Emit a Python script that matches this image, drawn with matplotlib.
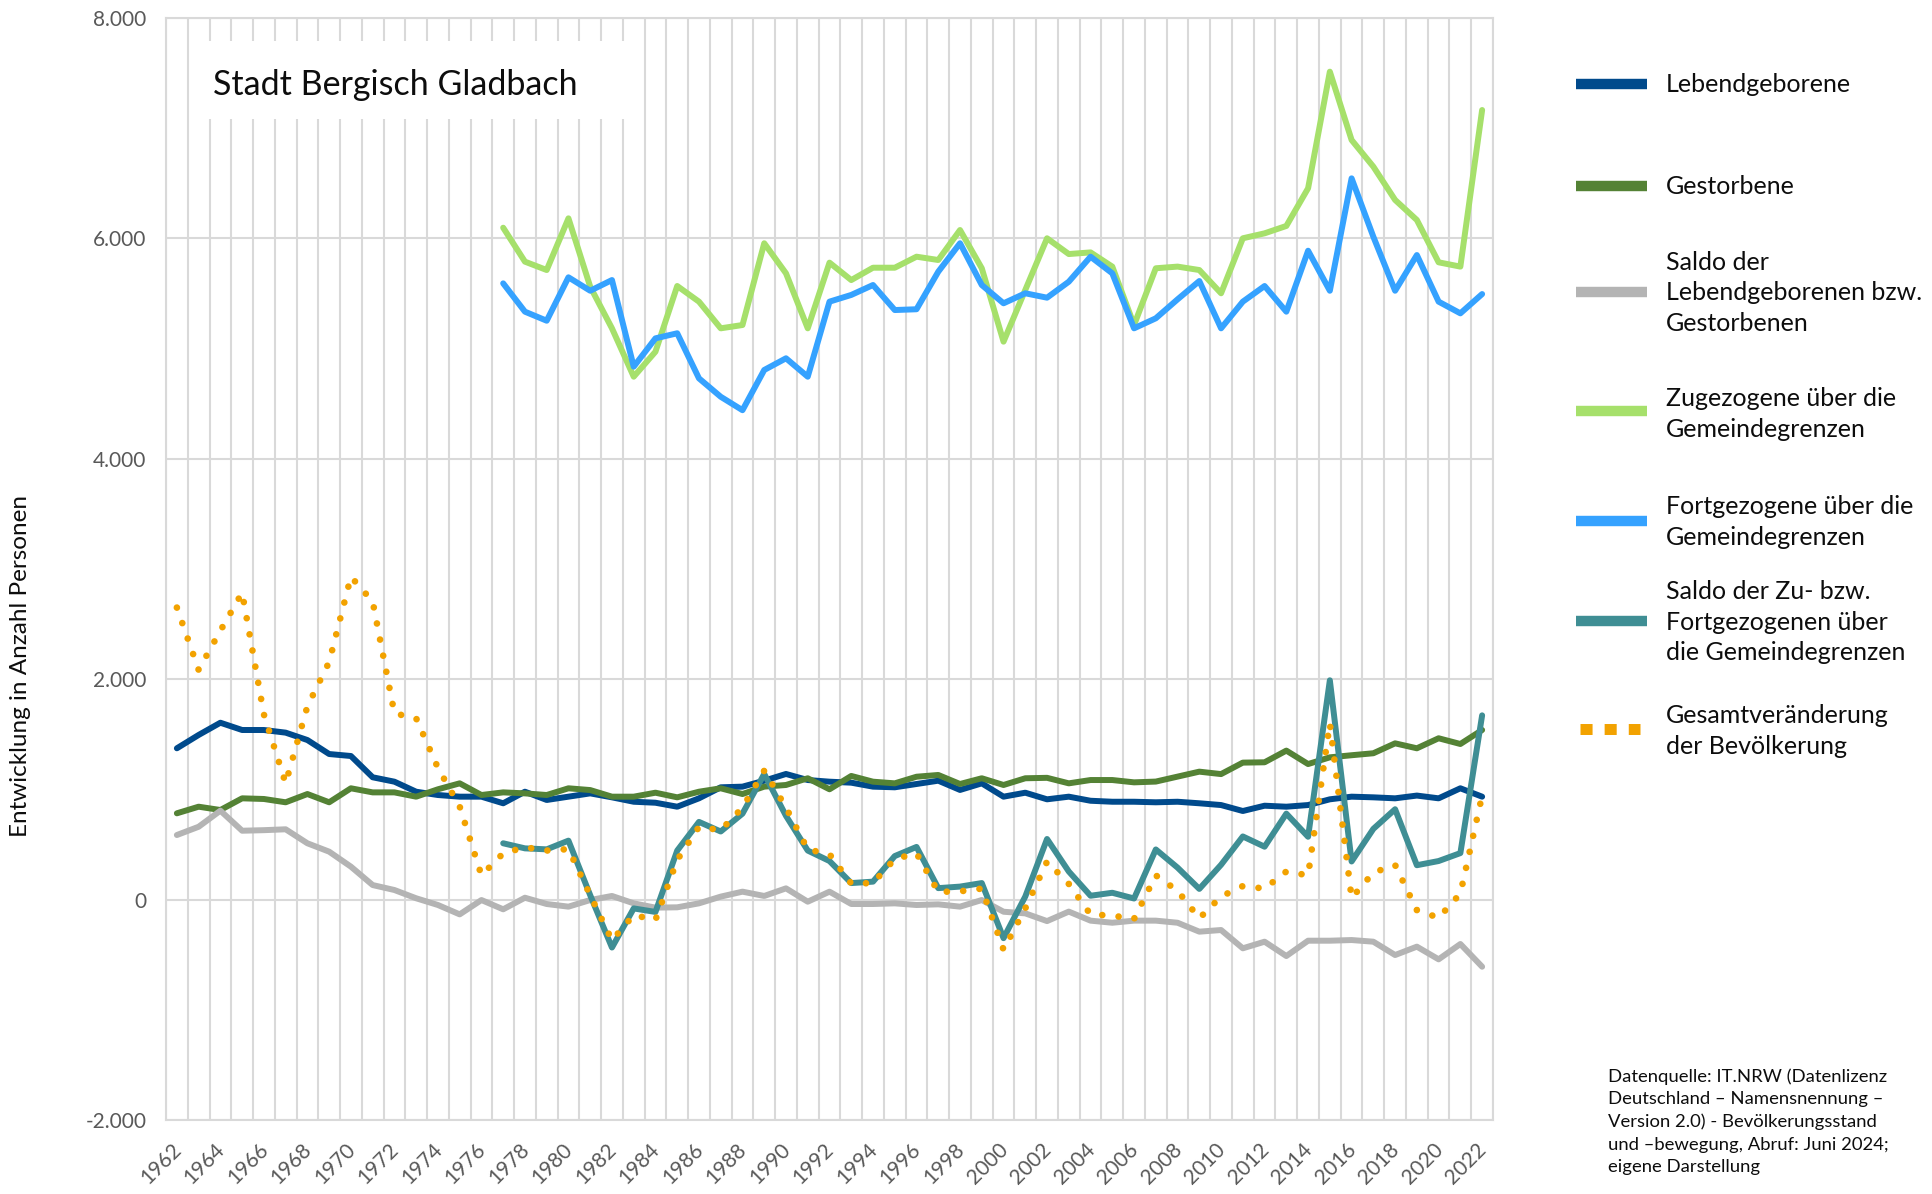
import numpy as np
import matplotlib.pyplot as plt
from matplotlib.lines import Line2D
from matplotlib.patches import Rectangle
from matplotlib.ticker import FuncFormatter
from matplotlib.transforms import ScaledTranslation

plt.rcParams['font.family'] = ['Lato', 'DejaVu Sans']

years = list(range(1962, 2023))
years_mig = list(range(1977, 2023))

# Lebendgeborene 1962-2022
geboren = [1373, 1494, 1605, 1539, 1539, 1515, 1448, 1321, 1303, 1110,
           1070, 979, 949, 934, 934, 874, 979, 904, 934, 964,
           928, 888, 879, 843, 919, 1019, 1025, 1079, 1140, 1085,
           1070, 1061, 1025, 1019, 1049, 1079, 995, 1055, 934, 970,
           910, 934, 897, 888, 888, 883, 888, 874, 858, 804,
           852, 843, 858, 910, 934, 928, 919, 944, 919, 1010,
           934]
# Gestorbene 1962-2022
gestorben = [783, 843, 813, 919, 913, 883, 958, 883, 1010, 973,
             973, 934, 1001, 1055, 949, 973, 964, 949, 1010, 994,
             934, 934, 970, 928, 979, 1010, 958, 1025, 1040, 1101,
             1001, 1122, 1070, 1055, 1115, 1131, 1049, 1101, 1040, 1101,
             1105, 1055, 1085, 1085, 1064, 1071, 1116, 1161, 1139, 1243,
             1246, 1352, 1230, 1291, 1310, 1328, 1418, 1373, 1464, 1412,
             1539]
# Saldo Lebendgeborene / Gestorbene 1962-2022
saldo_nat = [586, 661, 807, 625, 630, 638, 511, 435, 299, 132,
             87, 12, -49, -134, -4, -88, 17, -40, -64, -4,
             33, -34, -73, -70, -34, 27, 72, 33, 102, -19,
             72, -40, -40, -34, -49, -43, -64, -4, -110, -125,
             -195, -109, -191, -210, -191, -191, -210, -291, -276, -442,
             -382, -512, -373, -373, -367, -382, -503, -427, -542, -403,
             -609]
# Zugezogene 1977-2022
zuzug = [6097, 5789, 5713, 6182, 5562, 5184, 4745, 4972, 5568, 5426,
         5184, 5214, 5956, 5683, 5184, 5780, 5622, 5734, 5734, 5834,
         5804, 6076, 5729, 5063, 5532, 6001, 5858, 5873, 5744, 5214,
         5729, 5744, 5713, 5502, 6001, 6046, 6113, 6455, 7513, 6893,
         6651, 6349, 6167, 5783, 5744, 7165]
# Fortgezogene 1977-2022
fortzug = [5592, 5335, 5253, 5647, 5525, 5622, 4836, 5093, 5139, 4730,
           4563, 4441, 4806, 4912, 4745, 5426, 5487, 5577, 5350, 5357,
           5698, 5956, 5577, 5411, 5502, 5462, 5607, 5834, 5683, 5184,
           5275, 5447, 5613, 5184, 5426, 5568, 5335, 5888, 5525, 6545,
           6015, 5525, 5849, 5426, 5320, 5495]
# Saldo Zu- / Fortgezogene 1977-2022
saldo_wand = [511, 465, 456, 535, 40, -435, -80, -112, 445, 705,
              618, 780, 1140, 760, 445, 350, 150, 163, 395, 478,
              104, 118, 150, -350, 28, 550, 255, 35, 62, 10,
              455, 290, 97, 316, 573, 480, 780, 570, 1990, 346,
              642, 820, 312, 350, 422, 1672]
# Gesamtveraenderung 1962-2022
gesamt = [2650, 2085, 2440, 2785, 1680, 1055, 1754, 2156, 2930, 2705,
          1690, 1645, 1195, 845, 220, 420, 475, 445, 458, 40,
          -370, -140, -185, 360, 660, 630, 834, 1170, 835, 455,
          412, 145, 150, 368, 420, 70, 75, 100, -455, -80,
          345, 142, -135, -145, -175, 220, 80, -170, 28, 123,
          100, 255, 220, 1600, 15, 245, 314, -95, -165, 55,
          945]

labels = ['Lebendgeborene', 'Gestorbene',
          'Saldo der\nLebendgeborenen bzw.\nGestorbenen',
          'Zugezogene über die\nGemeindegrenzen',
          'Fortgezogene über die\nGemeindegrenzen',
          'Saldo der Zu- bzw.\nFortgezogenen über\ndie Gemeindegrenzen',
          'Gesamtveränderung\nder Bevölkerung']
colors = ['#004A8C', '#548235', '#B4B4B4', '#A6E06B', '#35A2FF', '#3F8E94', '#F2A200']

W, H = 1932, 1194
fig = plt.figure(figsize=(W / 100, H / 100), dpi=100)
ax = fig.add_axes([166 / W, 1 - 1120 / H, 1327 / W, 1102 / H])

x_all = np.arange(len(years))
x_mig = np.arange(len(years_mig)) + (years_mig[0] - years[0])

series = [(x_all, geboren), (x_all, gestorben), (x_all, saldo_nat),
          (x_mig, zuzug), (x_mig, fortzug), (x_mig, saldo_wand)]
for (xs, ys), c in zip(series, colors[:6]):
    ax.plot(xs, ys, color=c, lw=4.3, solid_joinstyle='round', solid_capstyle='round', zorder=2)
ax.plot(x_all, gesamt, color=colors[6], lw=4.8, linestyle=(0, (0.01, 2.45)),
        dash_capstyle='round', zorder=3)

ax.set_xlim(-0.5, len(years) - 0.5)
ax.set_ylim(-2000, 8000)
ax.set_yticks(range(-2000, 8001, 2000))
ax.yaxis.set_major_formatter(FuncFormatter(lambda v, _: f"{int(v):,}".replace(',', '.')))
ax.set_xticks(x_all[::2])
ax.set_xticklabels([str(y) for y in years[::2]], rotation=45, ha='right', va='top',
                   rotation_mode='anchor')
ax.set_xticks(np.arange(-0.5, len(years), 1), minor=True)

grid_c = '#D9D9D9'
ax.set_axisbelow(True)
ax.grid(which='minor', axis='x', color=grid_c, lw=1.5)
ax.grid(which='major', axis='y', color=grid_c, lw=1.5)
for s in ax.spines.values():
    s.set_color(grid_c)
    s.set_linewidth(1.5)
ax.tick_params(which='both', length=0, colors='#595959', labelsize=15)
ax.tick_params(axis='y', pad=14)
ax.tick_params(axis='x', pad=14)
for lab in ax.get_xticklabels():
    lab.set_transform(lab.get_transform() + ScaledTranslation(-0.06, 0, fig.dpi_scale_trans))

# title box
ax.add_patch(Rectangle((29 / 1327, (1120 - 119) / 1102), 437 / 1327, 78 / 1102,
                       transform=ax.transAxes, facecolor='white', edgecolor='none', zorder=1))
ax.text(47 / 1327, (1120 - 85) / 1102, 'Stadt Bergisch Gladbach', transform=ax.transAxes,
        fontsize=24.5, va='center', ha='left', color='#0D0D0D', zorder=4)

fig.text(21 / W, 1 - 666 / H, 'Entwicklung in Anzahl Personen', rotation=90,
         va='center', ha='center', fontsize=17.5, color='#0D0D0D')

# legend
leg_y = [84, 186, 292, 411, 521, 621, 729]
txt_y = [84, 186, 293, 414, 522, 622, 731]
for lab, c, ly, ty in zip(labels, colors, leg_y, txt_y):
    if c == colors[6]:
        fig.add_artist(Line2D([1580 / W, 1640 / W], [1 - ly / H] * 2, transform=fig.transFigure,
                              color=c, lw=7.9, linestyle=(0, (1.1, 1.1)), dash_capstyle='butt'))
    else:
        fig.add_artist(Line2D([1576 / W, 1647 / W], [1 - ly / H] * 2, transform=fig.transFigure,
                              color=c, lw=7.5, solid_capstyle='butt'))
    fig.text(1666 / W, 1 - ty / H, lab, fontsize=18, va='center', ha='left',
             linespacing=1.42, color='#0D0D0D')

fig.text(1608 / W, 1 - 1068 / H,
         "Datenquelle: IT.NRW (Datenlizenz\nDeutschland – Namensnennung –\n"
         "Version 2.0) - Bevölkerungsstand\nund –bewegung, Abruf: Juni 2024;\n"
         "eigene Darstellung",
         fontsize=13.3, va='top', ha='left', linespacing=1.5, color='#0D0D0D')

fig.savefig('out.png', dpi=100)
